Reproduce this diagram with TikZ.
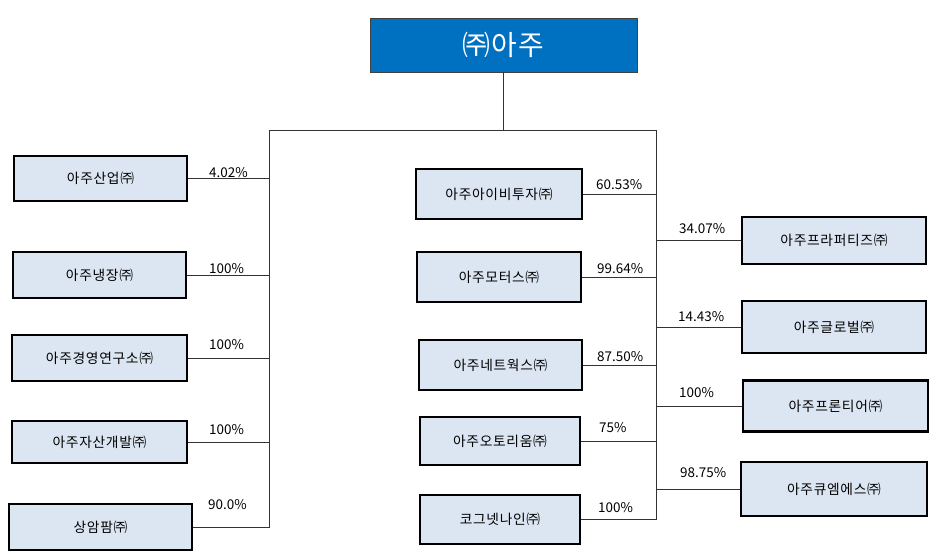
\documentclass[tikz,border=0pt]{standalone}
\usepackage{fontspec}
\setmainfont{Noto Sans CJK KR}
\newfontfamily\corpfont[LetterSpace=5]{Noto Sans CJK KR}
\usepackage{tikz}
\definecolor{topblue}{HTML}{0070C0}
\definecolor{boxblue}{HTML}{DCE6F2}

\begin{document}
\begin{tikzpicture}[x=1bp,y=-1bp,
    corp/.style={draw,line width=2.3bp,fill=boxblue,inner sep=0pt,
        font=\corpfont\fontsize{13.8}{15}\selectfont},
    link/.style={draw=black!80,line width=0.9bp},
    pct/.style={anchor=base west,inner sep=0pt,font=\fontsize{13.5}{15}\selectfont}]
    \useasboundingbox (0,0) rectangle (948,558);
    \node[draw=black!75,line width=0.9bp,fill=topblue,text=white,inner sep=0pt,
        minimum width=267bp,minimum height=54bp,font=\corpfont\fontsize{28}{30}\selectfont]
        (aju) at (503.5,45) {㈜아주};
    \coordinate (lt) at (269,130);
    \coordinate (rt) at (656,130);
    % left column
    \node[corp,minimum width=173bp,minimum height=45bp] (l1) at (100.5,178.5) {아주산업㈜};
    \node[corp,minimum width=173bp,minimum height=46bp] (l2) at (99.5,275) {아주냉장㈜};
    \node[corp,minimum width=175bp,minimum height=46bp] (l3) at (99.5,358) {아주경영연구소㈜};
    \node[corp,minimum width=175bp,minimum height=42bp] (l4) at (99.5,442) {아주자산개발㈜};
    \node[corp,minimum width=183bp,minimum height=46bp] (l5) at (100.5,527) {상암팜㈜};
    % middle column
    \node[corp,minimum width=166bp,minimum height=50bp] (m1) at (499,194) {아주아이비투자㈜};
    \node[corp,minimum width=164bp,minimum height=50bp] (m2) at (499,277) {아주모터스㈜};
    \node[corp,minimum width=163bp,minimum height=50bp] (m3) at (500.5,365) {아주네트웍스㈜};
    \node[corp,minimum width=160bp,minimum height=48bp] (m4) at (500,441) {아주오토리움㈜};
    \node[corp,minimum width=160bp,minimum height=49bp] (m5) at (500,519.5) {코그넷나인㈜};
    % right column
    \node[corp,minimum width=184bp,minimum height=47bp] (r1) at (834,240.5) {아주프라퍼티즈㈜};
    \node[corp,minimum width=184bp,minimum height=52bp] (r2) at (834,327) {아주글로벌㈜};
    \node[corp,minimum width=185bp,minimum height=51bp] (r3) at (835.5,406) {아주프론티어㈜};
    \node[corp,minimum width=186bp,minimum height=54bp] (r4) at (834,489) {아주큐엠에스㈜};

    \draw[link] (aju.south) -- (aju.south |- lt);
    \draw[link] (l5.east) -| (lt) -- (rt) |- (m5.east);
    \foreach \n in {l1,l2,l3,l4} \draw[link] (\n.east) -- (\n.east -| lt);
    \foreach \n in {m1,m2,m3,m4} \draw[link] (\n.east) -- (\n.east -| rt);
    \foreach \n in {r1,r2,r3,r4} \draw[link] (\n.west) -- (\n.west -| rt);

    \node[pct] (pl1) at (209,178) {4.02\%};
    \node[pct] (pl2) at (209,274) {100\%};
    \node[pct] (pl3) at (209,350) {100\%};
    \node[pct] (pl4) at (209,434) {100\%};
    \node[pct] (pl5) at (208,509) {90.0\%};
    \node[pct] (pm1) at (596,190) {60.53\%};
    \node[pct] (pm2) at (597,274) {99.64\%};
    \node[pct] (pm3) at (597,362) {87.50\%};
    \node[pct] (pm4) at (599,432) {75\%};
    \node[pct] (pm5) at (598,512) {100\%};
    \node[pct] (pr1) at (679,234) {34.07\%};
    \node[pct] (pr2) at (678,322) {14.43\%};
    \node[pct] (pr3) at (679,397) {100\%};
    \node[pct] (pr4) at (680,477) {98.75\%};
\end{tikzpicture}
\end{document}
